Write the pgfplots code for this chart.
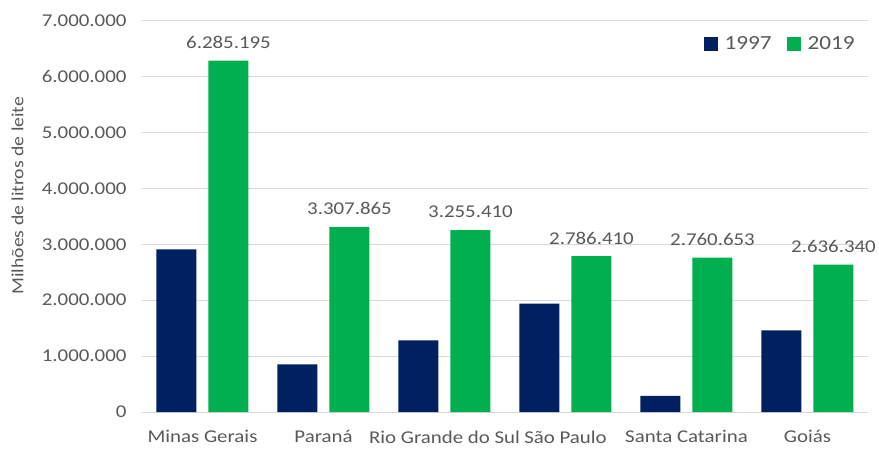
\documentclass[border=0pt]{standalone}
\usepackage{pgfplots}
\pgfplotsset{compat=1.18}
\usepackage{fontspec}
\setmainfont[FakeStretch=1.16]{Carlito}
\definecolor{navy}{HTML}{002060}
\definecolor{grn}{HTML}{00B050}
\definecolor{txt}{HTML}{595959}
\definecolor{grd}{HTML}{D9D9D9}
\newcommand{\lab}{\fontsize{18}{21}\selectfont}
\begin{document}
\begin{tikzpicture}[x=1pt,y=1pt]
\begin{axis}[
  at={(0,0)}, anchor=south west,
  scale only axis, width=726pt, height=391.3pt,
  ybar=12pt, bar width=40pt,
  xmin=-0.5, xmax=5.5, ymin=0, ymax=7000000,
  scaled y ticks=false,
  xtick={0,1,2,3,4,5},
  xticklabels={Minas Gerais, Paraná, Rio Grande do Sul, São Paulo, Santa Catarina, Goiás},
  ytick={0,1000000,2000000,3000000,4000000,5000000,6000000,7000000},
  yticklabels={0,1.000.000,2.000.000,3.000.000,4.000.000,5.000.000,6.000.000,7.000.000},
  major tick length=0pt,
  ymajorgrids, grid style={grd, line width=1pt},
  axis line style={draw=none},
  tick label style={font=\lab, text=txt},
  xticklabel style={yshift=-15pt},
  yticklabel style={xshift=-12pt},
  ylabel={Milhões de litros de leite},
  ylabel style={font=\fontsize{17}{20}\selectfont, text=txt, at={(axis description cs:-0.1715,0.553)}, anchor=center},
  legend columns=2,
  legend style={at={(axis description cs:0.982,0.9417)}, anchor=east, draw=none, fill=none, font=\fontsize{20}{23}\selectfont, text=txt, inner sep=0pt,
    nodes={inner sep=0pt},
    /tikz/every odd column/.append style={column sep=7pt},
    /tikz/every even column/.append style={column sep=15pt}},
]
\addplot[fill=navy, draw=none, legend image code/.code={\path[fill=navy] (0pt,-7pt) rectangle (14pt,7pt);}]
  coordinates {(0,2910000) (1,853000) (2,1280000) (3,1940000) (4,290000) (5,1460000)};
\addlegendentry{1997}
\addplot[fill=grn, draw=none, legend image code/.code={\path[fill=grn] (0pt,-7pt) rectangle (14pt,7pt);},
  point meta=explicit symbolic, nodes near coords,
  nodes near coords style={font=\lab, text=txt, yshift=8.5pt}]
  coordinates {(0,6285195) [6.285.195] (1,3307865) [3.307.865] (2,3255410) [3.255.410]
               (3,2786410) [2.786.410] (4,2760653) [2.760.653] (5,2636340) [2.636.340]};
\addlegendentry{2019}
\end{axis}
\pgfresetboundingbox
\path[use as bounding box] (-142,-36) rectangle (737,412);
\end{tikzpicture}
\end{document}
